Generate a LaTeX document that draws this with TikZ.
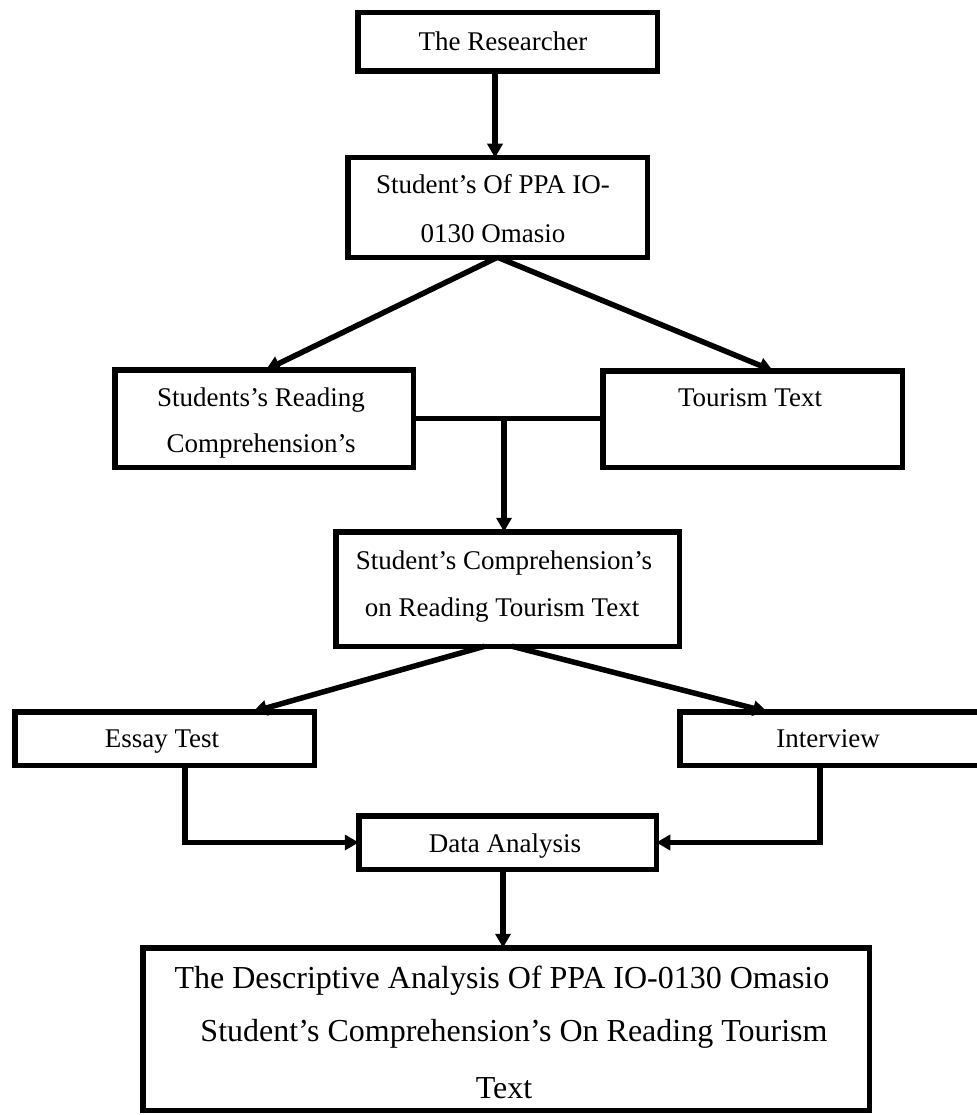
\documentclass[tikz,border=0pt]{standalone}
\usepackage{fontspec}
\setmainfont{Liberation Serif}
\usetikzlibrary{arrows.meta}
\begin{document}
\begin{tikzpicture}[x=1pt,y=-1pt,
  box/.style={draw=black, line width=5.5pt, inner sep=0pt, outer sep=0pt, fill=white},
  txt/.style={anchor=base, inner sep=0pt, font=\fontsize{27}{32}\selectfont},
  bigtxt/.style={anchor=base, inner sep=0pt, font=\fontsize{32}{38}\selectfont},
  arr/.style={line width=5.5pt, -{Triangle[length=14pt,width=15pt]}},
  lnk/.style={line width=5.5pt}]
\useasboundingbox (0,0) rectangle (976,1115);
\fill[white] (0,0) rectangle (976,1115);
% boxes
\node[box, minimum width=299.5pt, minimum height=58.5pt] (b1) at (507.5,42) {};
\node[box, minimum width=299.5pt, minimum height=99.5pt] (b2) at (497.5,207.5) {};
\node[box, minimum width=298.5pt, minimum height=97.5pt] (L) at (264,418.5) {};
\node[box, minimum width=299.5pt, minimum height=96.5pt] (R) at (752.5,419) {};
\node[box, minimum width=343.5pt, minimum height=114.5pt] (b3) at (507.5,589) {};
\node[box, minimum width=299.5pt, minimum height=53.5pt] (essay) at (164.5,738.5) {};
\node[box, minimum width=303.5pt, minimum height=53.5pt] (inter) at (831.5,738.5) {};
\node[box, minimum width=297.5pt, minimum height=53.5pt] (data) at (507.5,842.5) {};
\node[box, minimum width=726.5pt, minimum height=162.5pt] (final) at (506,1029) {};
% texts
\node[txt] (t1) at (503,51) {The Researcher};
\node[txt] (t2a) at (493,194) {Student’s Of PPA IO-};
\node[txt] (t2b) at (493,242) {0130 Omasio};
\node[txt] (tLa) at (261,406) {Students’s Reading};
\node[txt] (tLb) at (261,452) {Comprehension’s};
\node[txt] (tR) at (750,406) {Tourism Text};
\node[txt] (t3a) at (504,569) {Student’s Comprehension’s};
\node[txt] (t3b) at (502,616) {on Reading Tourism Text};
\node[txt] (tE) at (162,747) {Essay Test};
\node[txt] (tI) at (828,747) {Interview};
\node[txt] (tD) at (505,852) {Data Analysis};
\node[bigtxt] (tFa) at (502,988) {The Descriptive Analysis Of PPA IO-0130 Omasio};
\node[bigtxt] (tFb) at (514,1041) {Student’s Comprehension’s On Reading Tourism};
\node[bigtxt] (tFc) at (504,1098) {Text};
% connectors
\draw[arr] ([xshift=-12.5pt]b1.south) -- ([xshift=-12.5pt]b1.south |- b2.north);
\draw[arr] (b2.south) -- ([xshift=2pt]L.north);
\draw[arr] (b2.south) -- ([xshift=20.5pt]R.north);
\draw[lnk] (L.east) -- (L.east -| R.west);
\coordinate (jn) at (504,418.5);
\draw[arr] (jn) -- (jn |- b3.north);
\draw[arr] ([xshift=-23pt]b3.south) -- ([xshift=88.5pt]essay.north);
\draw[arr] ([xshift=4.5pt]b3.south) -- ([xshift=-64.5pt]inter.north);
\draw[arr] ([xshift=20.5pt]essay.south) |- (data.west);
\draw[arr] ([xshift=-11.5pt]inter.south) |- (data.east);
\draw[arr] ([xshift=-4.5pt]data.south) -- ([xshift=-4.5pt]data.south |- final.north);
\end{tikzpicture}
\end{document}
